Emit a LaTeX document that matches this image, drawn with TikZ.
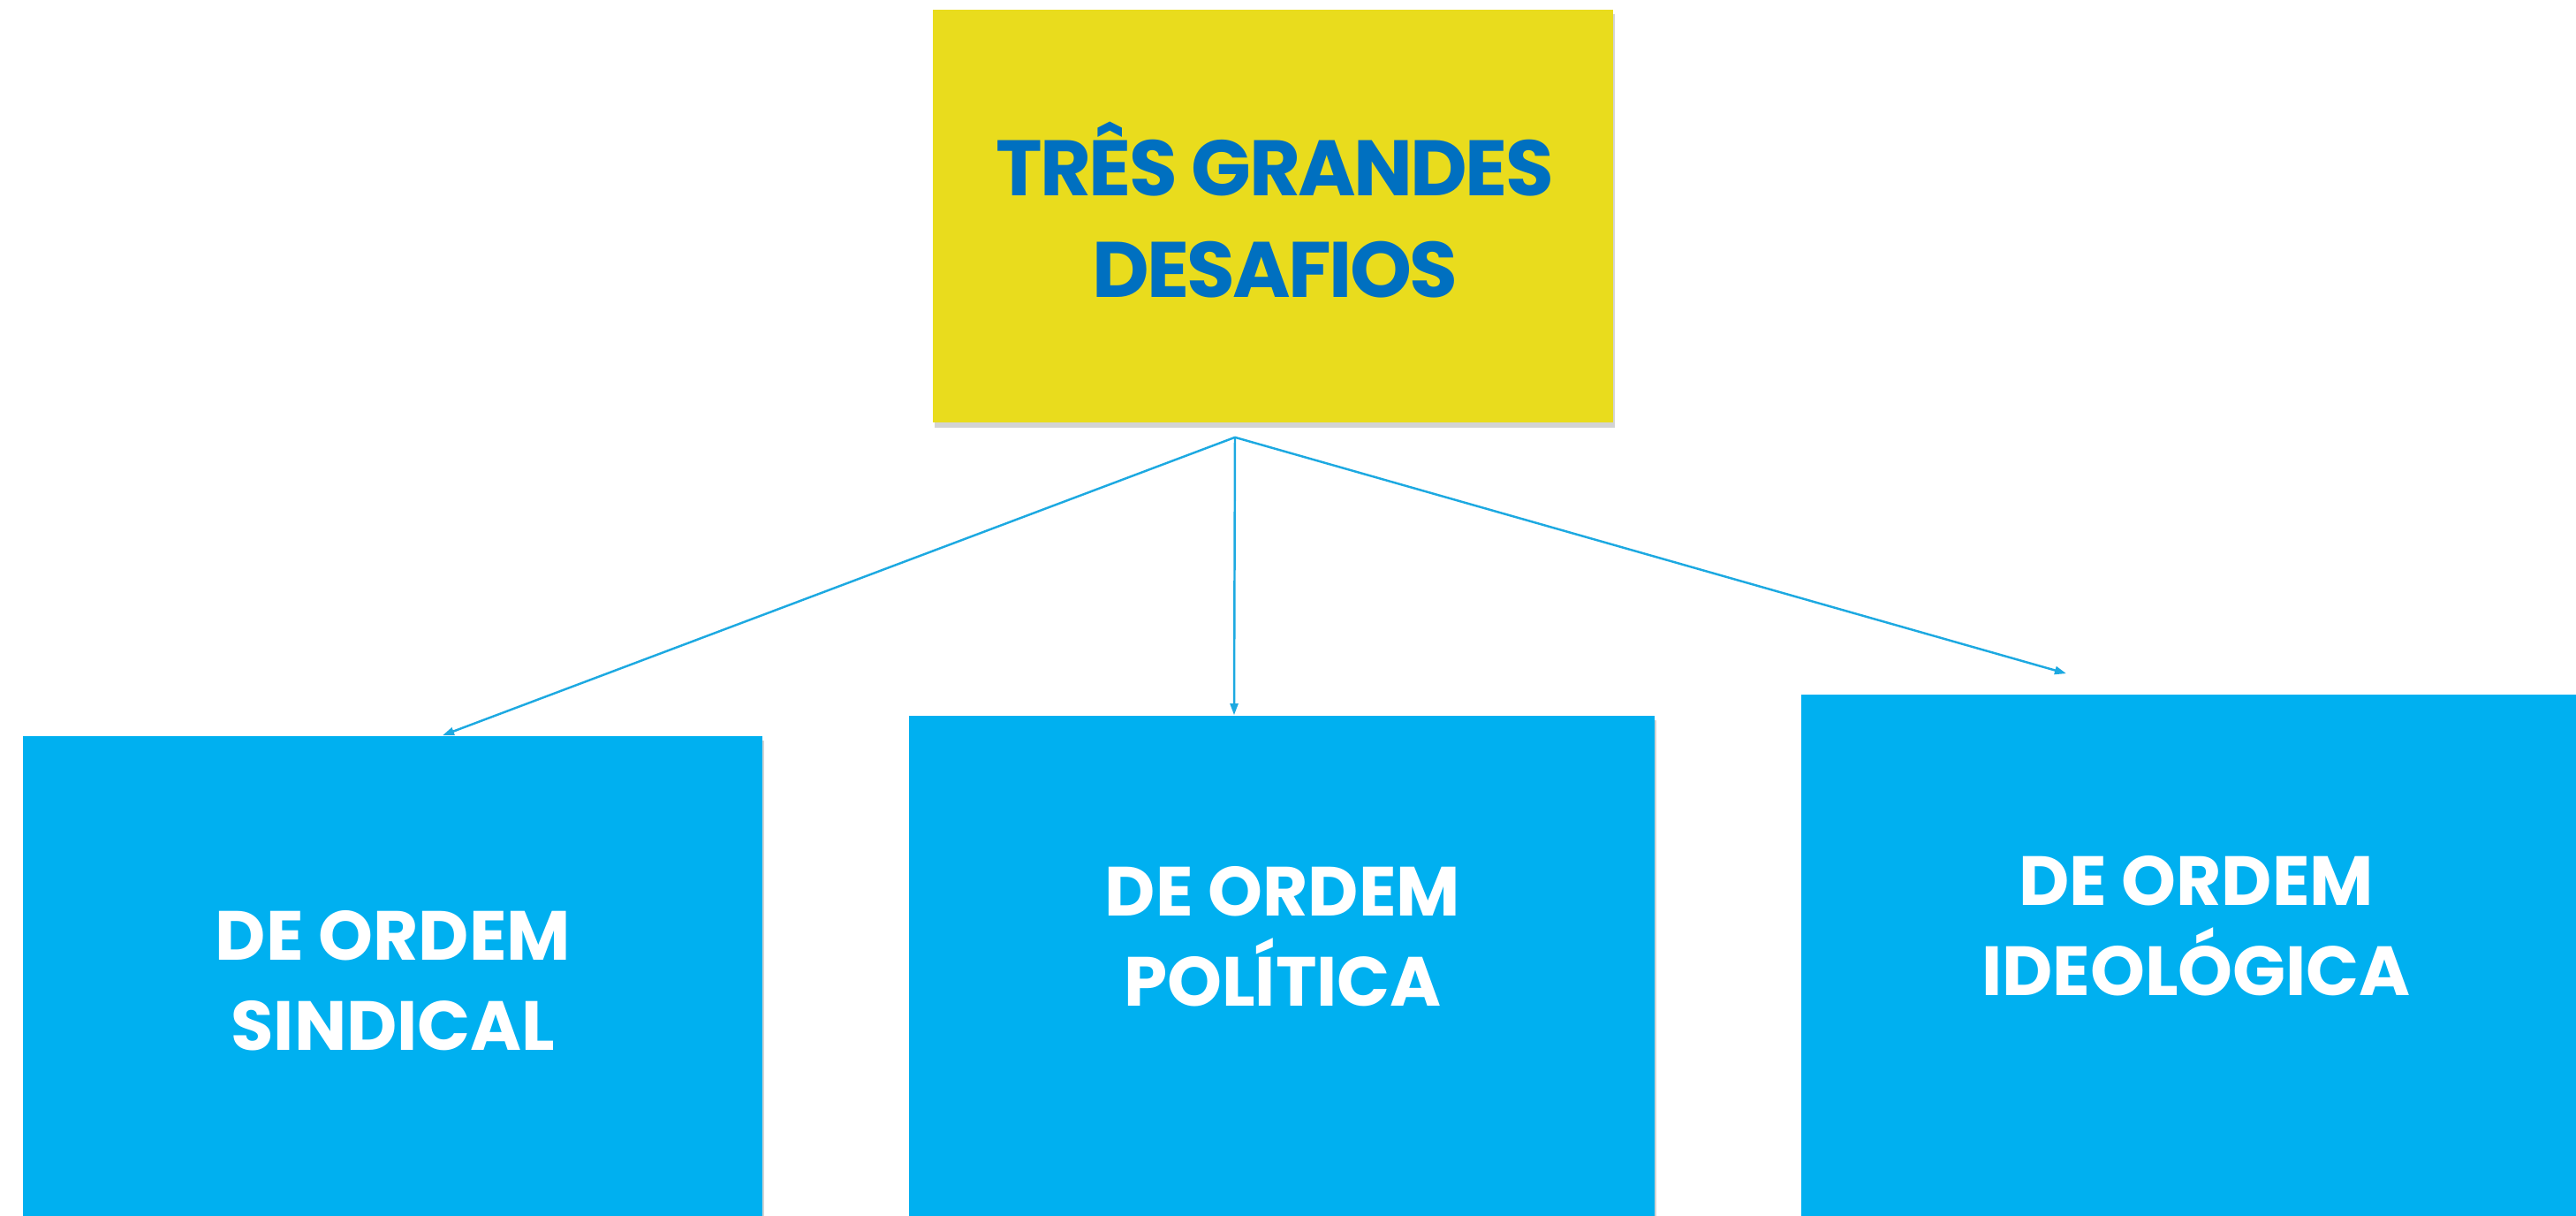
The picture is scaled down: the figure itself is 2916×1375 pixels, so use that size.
\documentclass[tikz,border=0pt]{standalone}
\usepackage{fontspec}
\setmainfont{Poppins}
\usetikzlibrary{arrows.meta,shadows}
\definecolor{desafioyellow}{HTML}{E9DC1D}
\definecolor{desafioblue}{HTML}{0070C0}
\definecolor{ordemblue}{HTML}{00B0F0}
\definecolor{arrowblue}{HTML}{1DA9E1}

\begin{document}
\begin{tikzpicture}[x=0.01cm, y=-0.01cm,
    box/.style={rectangle, inner sep=0pt,
      drop shadow={shadow xshift=0.6pt, shadow yshift=-1.6pt, opacity=0.35}},
    topbox/.style={box, fill=desafioyellow, minimum width=7.7cm, minimum height=4.67cm},
    ordembox/.style={box, fill=ordemblue},
    toptext/.style={align=center, text=desafioblue,
      font=\fontsize{25.3pt}{32.7pt}\selectfont\bfseries\addfontfeature{LetterSpace=-3}},
    ordemtext/.style={align=center, text=white,
      font=\fontsize{22.4pt}{29pt}\selectfont\bfseries},
    link/.style={-{Triangle[length=0.13cm, width=0.09cm]}, draw=arrowblue,
      line width=0.7pt}]
  \useasboundingbox (0,0) rectangle (2916,1375);
  \clip (0,0) rectangle (2916,1375);

  % caixa do topo
  \node[topbox] (desafios) at (1441,244.5) {};
  \node[toptext] (desafiostxt) at (1443,238) {TRÊS GRANDES\\DESAFIOS};

  % as tres ordens
  \node[ordembox, minimum width=8.37cm, minimum height=5.67cm] (sindical) at (444.5,1116.5) {};
  \node[ordembox, minimum width=8.44cm, minimum height=5.9cm] (politica) at (1451,1105) {};
  \node[ordembox, minimum width=8.91cm, minimum height=6.14cm] (ideologica) at (2484.5,1093) {};
  \node[ordemtext] (sindicaltxt) at (445,1110) {DE ORDEM\\SINDICAL};
  \node[ordemtext] (politicatxt) at (1452,1060) {DE ORDEM\\POLÍTICA};
  \node[ordemtext] (ideologicatxt) at (2486,1048) {DE ORDEM\\IDEOLÓGICA};

  % setas
  \coordinate (split) at ([xshift=-0.43cm, yshift=-0.16cm]desafios.south);
  \draw[link] (split) -- ([xshift=0.565cm]sindical.north);
  \draw[link] (split) -- ([xshift=-0.54cm]politica.north);
  \draw[link] (split) -- ([xshift=-1.455cm, yshift=0.23cm]ideologica.north);
\end{tikzpicture}
\end{document}
